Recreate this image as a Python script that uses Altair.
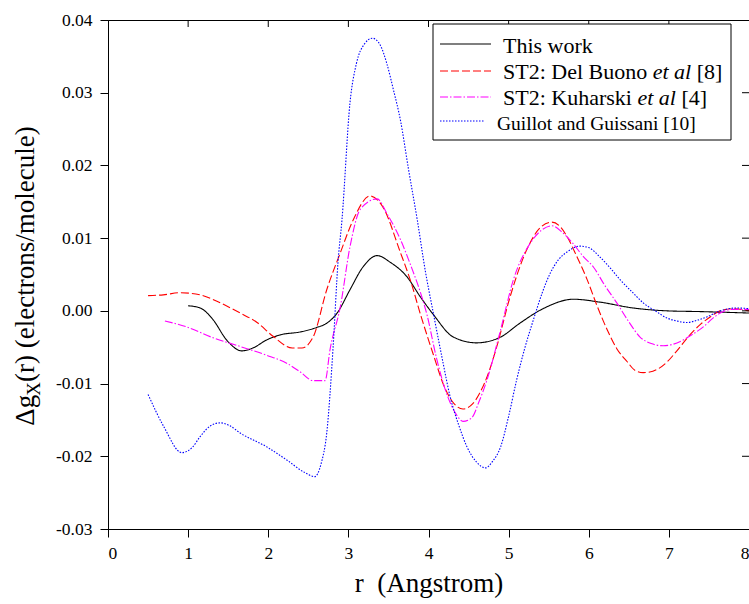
import altair as alt
import pandas as pd

FONT = "Liberation Serif"

# ---- data ----
r_this = [1.0, 1.15, 1.31, 1.48, 1.67, 1.81, 1.98, 2.15, 2.4, 2.6, 2.73, 2.86, 3.02, 3.18, 3.36, 3.52,
          3.73, 3.9, 4.06, 4.31, 4.6, 4.9, 5.14, 5.43, 5.81, 6.14, 6.55, 6.98, 7.39, 8.0]
g_this = [0.0007, 0.0004, -0.0012, -0.0040, -0.0055, -0.0051, -0.0040, -0.0033, -0.0029, -0.0023,
          -0.0017, -0.0003, 0.0029, 0.0060, 0.0076, 0.0067, 0.0047, 0.0019, -0.0005, -0.0036,
          -0.0044, -0.0036, -0.0017, 0.0003, 0.0016, 0.0012, 0.0004, 0.0000, -0.0001, -0.0003]

r_delb = [0.5, 0.69, 0.9, 1.15, 1.4, 1.65, 1.86, 2.06, 2.3, 2.42, 2.56, 2.73, 2.9, 3.06, 3.27, 3.43,
          3.65, 3.78, 3.9, 4.06, 4.2, 4.3, 4.43, 4.55, 4.64, 4.75, 4.85, 5.02, 5.23, 5.4, 5.54, 5.65,
          5.73, 5.85, 5.98, 6.1, 6.23, 6.35, 6.48, 6.58, 6.68, 6.8, 6.98, 7.1, 7.27, 7.4, 7.52, 7.64,
          7.8, 8.0]
g_delb = [0.0021, 0.0022, 0.0025, 0.0022, 0.0011, -0.0003, -0.0016, -0.0035, -0.0051, -0.0051,
          -0.0036, 0.0029, 0.0080, 0.0125, 0.0158, 0.0143, 0.0080, 0.0040, -0.0005, -0.0060,
          -0.0105, -0.0125, -0.0135, -0.0128, -0.0113, -0.0085, -0.0050, 0.0020, 0.0085, 0.0115,
          0.0122, 0.0115, 0.0102, 0.0075, 0.0043, 0.0008, -0.0026, -0.0052, -0.0070, -0.0082,
          -0.0085, -0.0083, -0.0070, -0.0055, -0.0032, -0.0018, -0.0008, 0.0000, 0.0003, 0.0000]

r_kuh = [0.71, 0.98, 1.31, 1.65, 1.98, 2.23, 2.4, 2.56, 2.71, 2.77, 2.9, 3.02, 3.15, 3.36, 3.48,
         3.65, 3.78, 3.9, 3.98, 4.1, 4.23, 4.35, 4.43, 4.54, 4.63, 4.73, 4.9, 5.06, 5.27, 5.4, 5.54,
         5.67, 5.8, 5.93, 6.06, 6.2, 6.35, 6.5, 6.64, 6.78, 6.93, 7.05, 7.18, 7.3, 7.43, 7.55, 7.64,
         7.8, 8.0]
g_kuh = [-0.0014, -0.0022, -0.0037, -0.0049, -0.0061, -0.0072, -0.0084, -0.0096, -0.0096, -0.0054,
         0.0006, 0.0088, 0.0140, 0.0154, 0.0134, 0.0098, 0.0062, 0.0025, -0.0005, -0.0065,
         -0.0115, -0.0143, -0.0152, -0.0147, -0.0125, -0.0095, -0.0026, 0.0043, 0.0093, 0.0110,
         0.0117, 0.0108, 0.0093, 0.0075, 0.0060, 0.0035, 0.0011, -0.0015, -0.0036, -0.0045,
         -0.0048, -0.0046, -0.0040, -0.0032, -0.0022, -0.0010, -0.0003, 0.0002, 0.0002]

r_gg = [0.5, 0.7, 0.92, 1.05, 1.15, 1.28, 1.4, 1.52, 1.65, 1.98, 2.23, 2.45, 2.58, 2.66, 2.73, 2.81,
        2.87, 2.92, 3.02, 3.1, 3.2, 3.3, 3.4, 3.48, 3.56, 3.65, 3.75, 3.86, 3.96, 4.06, 4.17, 4.27,
        4.38, 4.48, 4.6, 4.71, 4.8, 4.9, 5.0, 5.1, 5.2, 5.31, 5.42, 5.52, 5.62, 5.73, 5.89, 6.0,
        6.14, 6.26, 6.39, 6.55, 6.68, 6.83, 6.98, 7.1, 7.23, 7.35, 7.48, 7.64, 7.85, 8.0]
g_gg = [-0.0115, -0.0160, -0.0195, -0.0188, -0.0173, -0.0158, -0.0154, -0.0158, -0.0168, -0.0187,
        -0.0205, -0.0222, -0.0228, -0.0210, -0.0168, -0.0049, 0.0066, 0.0125, 0.0286, 0.0340,
        0.0367, 0.0375, 0.0365, 0.0340, 0.0305, 0.0262, 0.0195, 0.0125, 0.0055, -0.0003, -0.0065,
        -0.0118, -0.0158, -0.0187, -0.0208, -0.0216, -0.0207, -0.0187, -0.0145, -0.0095, -0.0052,
        -0.0012, 0.0025, 0.0052, 0.0070, 0.0081, 0.0089, 0.0087, 0.0074, 0.0060, 0.0043, 0.0025,
        0.0011, 0.0000, -0.0010, -0.0014, -0.0016, -0.0013, -0.0008, 0.0000, 0.0004, 0.0003]

series_names = ["This work", "ST2: Del Buono et al [8]", "ST2: Kuharski et al [4]",
                "Guillot and Guissani [10]"]
series_colors = ["#000000", "#ff0000", "#ff00ff", "#0000ff"]
series_dash = [[1, 0], [8, 3], [8, 2, 1.5, 2], [1.5, 1.5]]

x_ticks = [0, 1, 2, 3, 4, 5, 6, 7, 8]
y_ticks = [-0.03, -0.02, -0.01, 0.0, 0.01, 0.02, 0.03, 0.04]

# ---- build table ----
rows = []
for name, rr, gg in zip(series_names, [r_this, r_delb, r_kuh, r_gg], [g_this, g_delb, g_kuh, g_gg]):
    for a, b in zip(rr, gg):
        rows.append({"series": name, "r": a, "g": b})
df = pd.DataFrame(rows)

W, H = 641, 509
xscale = alt.Scale(domain=[0, 8], nice=False, zero=False)
yscale = alt.Scale(domain=[-0.03, 0.04], nice=False, zero=False)

common_axis = dict(grid=False, labelFont=FONT, labelFontSize=17.5, labelColor="black",
                   tickColor="black", domainColor="black", tickSize=8, tickWidth=1, domainWidth=1)
xaxis = alt.Axis(values=x_ticks, format="d", title="r\u00a0\u00a0(Angstrom)",
                 titleFont=FONT, titleFontSize=27, titleFontWeight="normal", titleColor="black",
                 titleY=62, titleBaseline="alphabetic", labelPadding=7, **common_axis)
yaxis = alt.Axis(values=y_ticks, title=None, labelPadding=8,
                 labelExpr="replace(format(datum.value, '.2f'), '−', '-')", **common_axis)

lines = alt.Chart(df).mark_line(strokeWidth=1.1, interpolate="monotone", clip=True).encode(
    x=alt.X("r:Q", scale=xscale, axis=xaxis),
    y=alt.Y("g:Q", scale=yscale, axis=yaxis),
    color=alt.Color("series:N", scale=alt.Scale(domain=series_names, range=series_colors), legend=None),
    strokeDash=alt.StrokeDash("series:N", scale=alt.Scale(domain=series_names, range=series_dash),
                              legend=None),
    detail="series:N",
)

# inward ticks on top and right frame
top_ticks = alt.Chart(pd.DataFrame({"r": x_ticks[1:-1]})).mark_rule(color="black").encode(
    x=alt.X("r:Q", scale=xscale, axis=xaxis), y=alt.value(0), y2=alt.value(7))
right_ticks = alt.Chart(pd.DataFrame({"g": y_ticks[1:-1]})).mark_rule(color="black").encode(
    y=alt.Y("g:Q", scale=yscale, axis=yaxis), x=alt.value(W - 7), x2=alt.value(W))

one = pd.DataFrame({"k": [0]})

# legend box
leg_box = alt.Chart(one).mark_rect(fill="white", stroke="black", strokeWidth=1).encode(
    x=alt.value(325), x2=alt.value(623), y=alt.value(4), y2=alt.value(120))

leg_y_line = [24, 51, 77, 101]
leg_x2 = [383, 383, 383, 377]
leg_lines = []
for i in range(4):
    leg_lines.append(alt.Chart(one).mark_rule(color=series_colors[i], strokeWidth=1.1,
                                              strokeDash=series_dash[i]).encode(
        x=alt.value(332), x2=alt.value(leg_x2[i]), y=alt.value(leg_y_line[i])))

def txt(s, x, y, size, style="normal", angle=0):
    kw = dict(text=s, font=FONT, fontSize=size, fontStyle=style, color="black",
              align="left", baseline="alphabetic")
    if angle:
        kw["angle"] = angle
    return alt.Chart(one).mark_text(**kw).encode(x=alt.value(x), y=alt.value(y))

leg_texts = [
    txt("This work", 395, 33, 22),
    txt("ST2: Del Buono", 395, 59, 22),
    txt("et al", 544.7, 59, 22, "italic"),
    txt("[8]", 588.7, 59, 22),
    txt("ST2: Kuharski", 395, 85, 22),
    txt("et al", 529.4, 85, 22, "italic"),
    txt("[4]", 573.4, 85, 22),
    txt("Guillot and Guissani [10]", 389, 110, 19.5),
]

# y-axis title with subscript
ytitle = [
    txt("Δg", -74, 405.7, 27, angle=270),
    txt("X", -68, 375.7, 19, angle=270),
    txt("(r) (electrons/molecule)", -74, 362, 27, angle=270),
]

chart = alt.layer(lines, top_ticks, right_ticks, leg_box, *leg_lines, *leg_texts, *ytitle).properties(
    width=W, height=H,
    autosize=alt.AutoSizeParams(type="none"),
    padding={"left": 108, "top": 20, "right": 0, "bottom": 75},
    background="white",
).configure(font=FONT).configure_view(stroke="black", strokeWidth=1)

chart.save("out.html", embed_options={"renderer": "svg", "actions": False})
